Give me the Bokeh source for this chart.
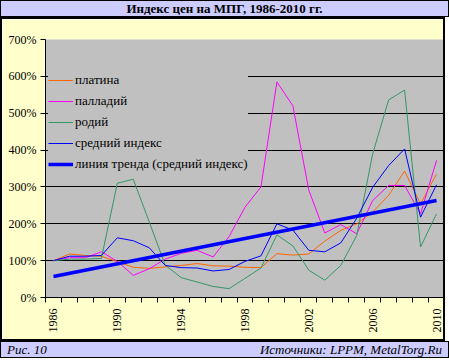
import math
from bokeh.plotting import figure
from bokeh.models import FixedTicker, Legend, LegendItem, CustomJSTickFormatter, Div
from bokeh.layouts import column
from bokeh.embed import file_html
from bokeh.resources import INLINE

# ---- data (index, % of 1986) ----
years = list(range(1986, 2011))
platinum = [100, 118, 114, 112, 97, 82, 79, 83, 87, 92, 86, 85, 82, 81, 119, 115, 118,
            153, 182, 200, 232, 277, 343, 254, 335]
palladium = [100, 108, 108, 124, 98, 60, 78, 104, 120, 128, 110, 165, 245, 300, 585, 520, 291,
             175, 198, 173, 263, 304, 304, 227, 372]
rhodium = [100, 104, 104, 106, 310, 321, 205, 88, 54, 42, 30, 24, 52, 80, 170, 140, 74,
           47, 87, 168, 390, 536, 563, 137, 227]
average = [100, 112, 112, 114, 162, 154, 135, 87, 81, 80, 72, 76, 98, 113, 200, 183, 128,
           124, 148, 215, 299, 358, 403, 218, 306]
trend_years = [1986, 2010]
trend = [57, 263]

series_names = ["платина", "палладий", "родий", "средний индекс",
                "линия тренда (средний индекс)"]
y_ticks = [0, 100, 200, 300, 400, 500, 600, 700]
x_label_years = [1986, 1990, 1994, 1998, 2002, 2006, 2010]
title_text = "Индекс цен на МПГ, 1986-2010 гг."
fig_label = "Рис. 10"
source_label = "Источники: LPPM, MetalTorg.Ru"

FONT = "Liberation Serif"
W = 449
LAV = "#CCCCFF"
YEL = "#FFFFCC"

# ---- title bar ----
title_div = Div(
    text=(f'<div style="font-family:\'{FONT}\';font-weight:bold;font-size:13px;'
          f'text-align:center;line-height:15px;width:{W - 2}px;color:black;">'
          f'{title_text}</div>'),
    width=W, height=17,
    styles={"background-color": LAV, "border": "1px solid black",
            "box-sizing": "border-box", "margin": "0", "padding": "0"})

# ---- main chart ----
p = figure(width=445, height=324, x_range=(1985.5, 2010.5), y_range=(0, 700),
           toolbar_location=None, output_backend="svg",
           min_border_left=43, min_border_right=3, min_border_top=20, min_border_bottom=46)
p.background_fill_color = "#C0C0C0"
p.border_fill_color = YEL
p.outline_line_color = None
p.styles = {"border": "2px solid black"}

p.xgrid.visible = False
p.ygrid.ticker = FixedTicker(ticks=y_ticks[1:-1])
p.ygrid.grid_line_color = "black"
p.ygrid.grid_line_width = 1

p.yaxis.ticker = FixedTicker(ticks=y_ticks)
p.yaxis.formatter = CustomJSTickFormatter(code="return tick + '%'")
p.yaxis.major_tick_out = 5
p.yaxis.major_tick_in = 0
p.yaxis.minor_tick_line_color = None
p.yaxis.major_label_standoff = 4

p.xaxis.ticker = FixedTicker(ticks=x_label_years,
                             minor_ticks=[y - 0.5 for y in years] + [years[-1] + 0.5])
p.xaxis.major_tick_out = 0
p.xaxis.major_tick_in = 0
p.xaxis.minor_tick_out = 5
p.xaxis.minor_tick_in = 0
p.xaxis.minor_tick_line_color = "black"
p.xaxis.major_label_orientation = math.pi / 2
p.xaxis.major_label_standoff = 6

for ax in (p.xaxis, p.yaxis):
    ax.axis_line_color = "black"
    ax.major_tick_line_color = "black"
    ax.major_label_text_font = FONT
    ax.major_label_text_font_size = "12px"
    ax.major_label_text_color = "black"

r_pt = p.line(years, platinum, line_color="#FF6600", line_width=1)
r_pd = p.line(years, palladium, line_color="#FF00FF", line_width=1)
r_rh = p.line(years, rhodium, line_color="#339966", line_width=1)
r_av = p.line(years, average, line_color="#0000FF", line_width=1)
r_tr = p.line(trend_years, trend, line_color="#0000FF", line_width=3.5)

legend = Legend(items=[LegendItem(label=n, renderers=[r])
                       for n, r in zip(series_names, [r_pt, r_pd, r_rh, r_av, r_tr])],
                location=(3, 123))
legend.background_fill_color = "#C0C0C0"
legend.background_fill_alpha = 1
legend.border_line_color = None
legend.label_text_font = FONT
legend.label_text_font_size = "13px"
legend.label_text_color = "black"
legend.glyph_width = 25
legend.glyph_height = 20
legend.label_height = 20
legend.spacing = 1
legend.padding = 10
legend.margin = 0
legend.label_standoff = 2
p.add_layout(legend)

# ---- bottom bar ----
bottom_div = Div(
    text=(f'<div style="font-family:\'{FONT}\';font-style:italic;font-size:13px;'
          f'line-height:15px;width:{W - 2}px;box-sizing:border-box;padding:0 6px;'
          f'display:flex;justify-content:space-between;color:black;">'
          f'<span>{fig_label}</span><span>{source_label}</span></div>'),
    width=W, height=17,
    styles={"background-color": LAV, "border": "1px solid black",
            "box-sizing": "border-box", "margin": "0", "padding": "0"})

layout = column(title_div, p, bottom_div, spacing=0)
open("out.html", "w").write(file_html(layout, INLINE))
